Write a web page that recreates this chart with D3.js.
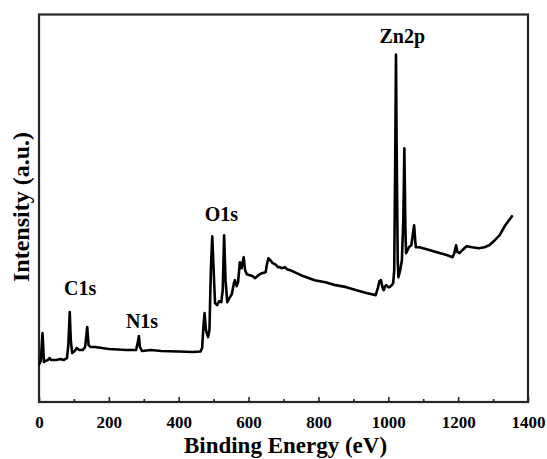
<!DOCTYPE html>
<html>
<head>
<meta charset="utf-8">
<script src="https://cdn.jsdelivr.net/npm/d3@7"></script>
<style>
  html, body { margin: 0; padding: 0; background: #fff; }
  svg { display: block; }
  text { font-family: "Liberation Serif", "Times New Roman", serif; font-weight: bold; fill: #000; }
</style>
</head>
<body>
<svg id="chart" width="547" height="459"></svg>
<script>
// XPS survey spectrum: binding energy (eV) vs. intensity (arbitrary units)
const energy = [
  1, 5, 8, 10, 12, 14, 18, 25, 30, 35, 50, 62, 70, 80, 84, 88, 91, 95, 102, 108,
  115, 125, 132, 138, 142, 148, 160, 200, 250, 278, 283, 286, 289, 295, 320, 350, 400, 440, 462, 467,
  471, 474, 478, 484, 488, 492, 496, 500, 504, 510, 516, 522, 526, 530, 534, 539, 545, 552, 558, 561,
  566, 570, 575, 580, 583, 586, 590, 595, 604, 612, 619, 628, 638, 649, 652, 657, 662, 669, 675, 679,
  684, 689, 695, 704, 710, 719, 750, 789, 820, 849, 880, 909, 940, 964, 970, 975, 979, 984, 987, 991,
  994, 1000, 1004, 1010, 1014, 1017, 1020, 1022, 1024, 1027, 1029, 1034, 1039, 1043, 1046, 1049, 1051, 1055, 1059, 1066,
  1070, 1074, 1077, 1079, 1089, 1110, 1139, 1160, 1169, 1184, 1189, 1194, 1198, 1204, 1212, 1224, 1240, 1259, 1275, 1289,
  1305, 1319, 1335, 1354
];
const intensity = [
  38, 41, 57, 69, 57, 40, 41, 42, 44, 42, 42, 43, 42, 44, 57, 90, 62, 49, 51, 54,
  52, 52, 55, 75, 57, 55, 55, 53, 52, 52, 60, 66, 55, 51, 52, 51, 50.5, 50, 50.5, 54,
  77, 89, 72, 65, 72, 132, 166, 132, 99, 97, 101, 100, 112, 167, 122, 100, 104, 108, 119, 122,
  116, 120, 140, 134, 140, 145, 132, 128, 127, 126, 124, 127, 129, 130, 137, 144, 142, 139, 138, 137,
  135, 135, 134, 135, 133, 132, 127, 122, 120, 117, 115, 112, 109, 107, 114, 121, 122, 114, 112, 116,
  117, 115, 115, 117, 119, 132, 252, 348, 252, 142, 125, 132, 142, 182, 254, 172, 149, 152, 155, 157,
  167, 177, 162, 155, 155, 153, 150, 148, 147, 145, 149, 157, 150, 149, 152, 156, 155, 154, 155, 157,
  162, 167, 177, 186
];

// Peak annotations
const peakNames = ["C1s", "N1s", "O1s", "Zn2p"];
const peakEnergy = [118, 295, 522, 1040];
const peakLabelLevel = [107, 74, 181, 359];

// Axis ticks
const majorTicks = [0, 200, 400, 600, 800, 1000, 1200, 1400];
const minorTicks = [100, 300, 500, 700, 900, 1100, 1300];

const svg = d3.select("#chart");
const margin = { left: 39, right: 19, top: 14.5, bottom: 57 };
const W = 547, H = 459;

const x = d3.scaleLinear().domain([0, 1400]).range([margin.left, W - margin.right]);
const y = d3.scaleLinear().domain([0, 388]).range([H - margin.bottom, margin.top]);

const frameColor = "#262626";

// Minor ticks (inward, unlabeled)
svg.append("g")
  .attr("transform", `translate(0,${y(0)})`)
  .call(d3.axisBottom(x).tickValues(minorTicks).tickSize(-3).tickFormat(""))
  .call(g => g.select(".domain").remove())
  .call(g => g.selectAll("line").attr("stroke", frameColor).attr("stroke-width", 1.6));

// Major ticks with labels
svg.append("g")
  .attr("transform", `translate(0,${y(0)})`)
  .call(d3.axisBottom(x).tickValues(majorTicks).tickSize(-5).tickFormat(d3.format("d")))
  .call(g => g.select(".domain").remove())
  .call(g => g.selectAll("line").attr("stroke", frameColor).attr("stroke-width", 1.6))
  .call(g => g.selectAll("text")
    .attr("y", 26).attr("dy", 0)
    .style("font-size", "17px")
    .style("font-family", "'Liberation Serif', 'Times New Roman', serif")
    .style("font-weight", "bold")
    .attr("fill", "#000"));

// Plot frame
svg.append("rect")
  .attr("x", x(0)).attr("y", y(388))
  .attr("width", x(1400) - x(0)).attr("height", y(0) - y(388))
  .attr("fill", "none").attr("stroke", frameColor).attr("stroke-width", 2.2);

// Spectrum
const points = energy.map((e, i) => [e, intensity[i]]);
svg.append("path")
  .datum(points)
  .attr("fill", "none")
  .attr("stroke", "#000")
  .attr("stroke-width", 2.6)
  .attr("stroke-linejoin", "round")
  .attr("stroke-linecap", "round")
  .attr("d", d3.line().x(d => x(d[0])).y(d => y(d[1])));

// Peak labels
svg.selectAll("text.peak")
  .data(peakNames)
  .join("text")
  .attr("class", "peak")
  .attr("x", (d, i) => x(peakEnergy[i]))
  .attr("y", (d, i) => y(peakLabelLevel[i]))
  .attr("text-anchor", "middle")
  .style("font-size", "20px")
  .text(d => d);

// Axis titles
svg.append("text")
  .attr("x", (x(0) + x(1400)) / 2 + 2)
  .attr("y", 453)
  .attr("text-anchor", "middle")
  .style("font-size", "23px")
  .text("Binding Energy (eV)");

svg.append("text")
  .attr("transform", `translate(29,${207}) rotate(-90)`)
  .attr("text-anchor", "middle")
  .style("font-size", "24px")
  .text("Intensity (a.u.)");
</script>
</body>
</html>
